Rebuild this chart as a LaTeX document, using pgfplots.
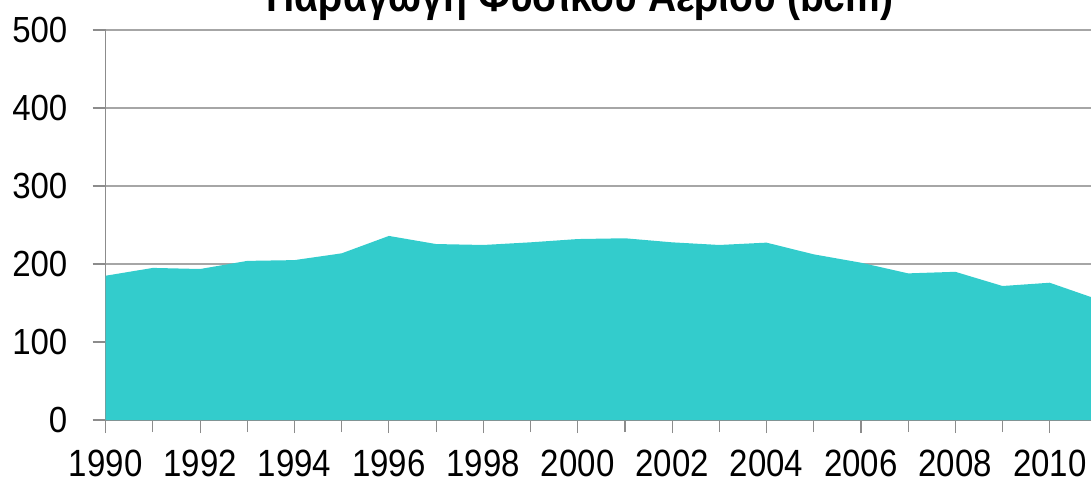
\documentclass[border=0pt]{standalone}
\usepackage{pgfplots}
\pgfplotsset{compat=1.18}
\usepackage{fontspec}
\setmainfont{Liberation Sans}
\definecolor{turq}{HTML}{33CCCC}
\definecolor{gridc}{HTML}{A6A6A6}
\definecolor{axc}{HTML}{8C8C8C}
\begin{document}
\begin{tikzpicture}
\begin{axis}[
  at={(0,0)}, anchor=south west,
  scale only axis,
  width=495.6pt, height=195pt,
  xmin=1990, xmax=2011, ymin=0, ymax=500,
  axis x line*=bottom, axis y line*=left,
  axis line style={axc, line width=0.7pt},
  xtick={1990,1992,...,2010},
  minor xtick={1991,1993,...,2011},
  ytick={0,100,...,500},
  ymajorgrids, major grid style={gridc, line width=0.8pt},
  tick align=outside,
  major tick length=6.5pt, minor tick length=6pt,
  tick style={axc, line width=0.6pt},
  /pgf/number format/1000 sep={},
  /pgf/number format/assume math mode=true,
  xticklabel={\scalebox{1}[1.15]{\pgfmathprintnumber{\tick}}},
  yticklabel={\scalebox{1}[1.1]{\pgfmathprintnumber{\tick}}},
  xticklabel style={anchor=north, inner sep=0pt, yshift=-8.5pt, font=\fontsize{16.5}{18}\selectfont},
  yticklabel style={anchor=east, inner sep=0pt, xshift=-12.5pt, font=\fontsize{16.5}{18}\selectfont},
  title={\scalebox{1}[1.12]{Παραγωγή Φυσικού Αερίου (bcm)}},
  title style={at={(0.4785,1)}, anchor=base, yshift=3.5pt, inner sep=0pt, font=\bfseries\fontsize{19.5}{22}\selectfont},
  axis on top=false,
]
\addplot[fill=turq, draw=none] coordinates {
(1990,185) (1991,195) (1992,193.6) (1993,204) (1994,205) (1995,213.7)
(1996,236) (1997,225.6) (1998,224.4) (1999,227.8) (2000,232) (2001,233)
(2002,227.8) (2003,224.4) (2004,227.4) (2005,212.4) (2006,201.7) (2007,188)
(2008,190) (2009,171.8) (2010,176) (2011,155)
} \closedcycle;
\end{axis}
\pgfresetboundingbox
\path[use as bounding box] (-52.85pt,-29.5pt) rectangle (492.65pt,210pt);
\end{tikzpicture}
\end{document}
